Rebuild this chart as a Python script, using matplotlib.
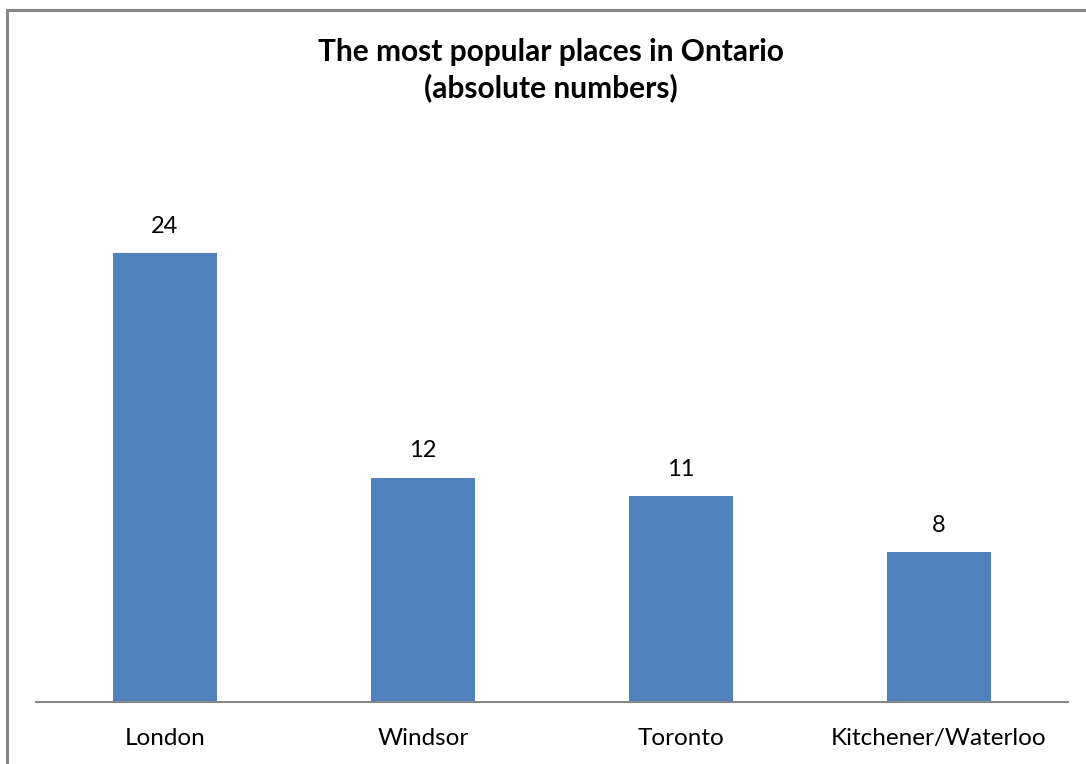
import numpy as np
import matplotlib.pyplot as plt
from matplotlib.patches import Rectangle

places = ["London", "Windsor", "Toronto", "Kitchener/Waterloo"]
counts = [24, 12, 11, 8]

plt.rcParams['font.family'] = ['Lato', 'DejaVu Sans']

fig = plt.figure(figsize=(10.86, 7.64), dpi=100)

# outer chart frame (cropped at right and bottom like the original)
fig.patches.append(Rectangle((7/1086, -0.05), 1.2, 1 - 9.5/764 + 0.05,
                             transform=fig.transFigure, fill=False,
                             edgecolor="#868686", linewidth=2.2))

ax = fig.add_axes([36/1086, 1 - 702/764, 1032/1086, (702 - 141)/764])
x = np.arange(len(places))
bars = ax.bar(x, counts, width=0.4, color="#4F81BD")

ax.set_xlim(-0.5, len(places) - 0.5)
ax.set_ylim(0, 30)
ax.set_xticks(x)
ax.set_xticklabels(places, fontsize=17.5)
ax.tick_params(axis="x", length=0, pad=19)
ax.set_yticks([])
for s in ["top", "right", "left"]:
    ax.spines[s].set_visible(False)
ax.spines["bottom"].set_color("#868686")
ax.spines["bottom"].set_linewidth(1.5)

for b, v in zip(bars, counts):
    ax.annotate(str(v), (b.get_x() + b.get_width() / 2, v),
                xytext=(0, 12), textcoords="offset points",
                ha="center", va="bottom", fontsize=17)

fig.text(551/1086, 1 - 70/764, "The most popular places in Ontario\n(absolute numbers)",
         ha="center", va="center", fontsize=21.5, fontweight="bold", linespacing=1.3)

fig.savefig("out.png", dpi=100)
